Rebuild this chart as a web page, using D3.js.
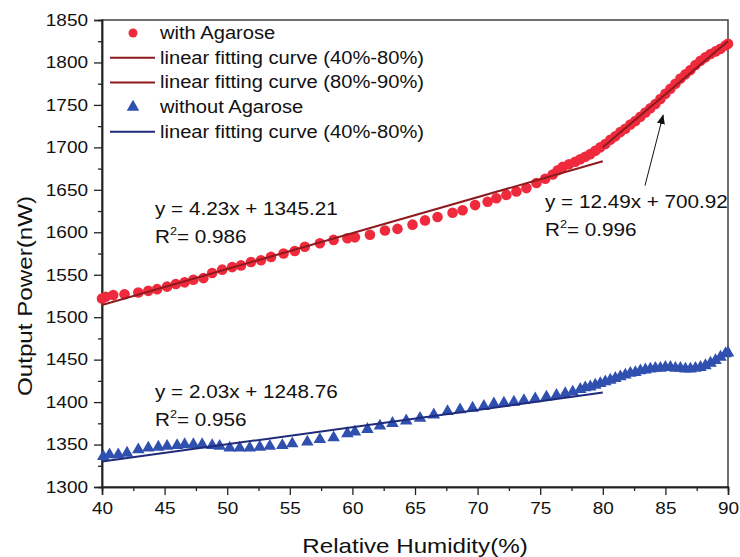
<!DOCTYPE html>
<html>
<head>
<meta charset="utf-8">
<script src="https://cdn.jsdelivr.net/npm/d3@7"></script>
<style>
body { margin: 0; background: #fff; }
text { font-family: "Liberation Sans", Arial, sans-serif; fill: #111; }
</style>
</head>
<body>
<div id="chart"></div>
<script>
// with Agarose (red circles)
const redX = [40.0, 40.3, 40.9, 41.8, 42.9, 43.7, 44.4, 45.2, 45.9, 46.6, 47.3, 48.1, 48.8, 49.6,
    50.4, 51.1, 51.9, 52.7, 53.5, 54.5, 55.4, 56.2, 57.4, 58.5, 59.6, 60.2, 61.4, 62.6, 63.6,
    64.8, 65.8, 66.8, 68.0, 68.8, 69.8, 70.8, 71.5, 72.3, 73.1, 73.9, 74.7, 75.4, 76.0, 76.4,
    76.8, 77.3, 77.8, 78.2, 78.6, 79.0, 79.4, 79.8, 80.2, 80.6, 81.0, 81.4, 81.8, 82.2, 82.6,
    83.0, 83.4, 83.8, 84.2, 84.6, 85.0, 85.4, 85.8, 86.2, 86.6, 87.0, 87.4, 87.8, 88.2, 88.6,
    89.0, 89.4, 89.8, 90.0];
const redY = [1522, 1524, 1526, 1527, 1529, 1531, 1533, 1536, 1539, 1541, 1544, 1546, 1552, 1556,
    1559, 1561, 1565, 1567, 1571, 1575, 1578, 1583, 1587, 1591, 1593, 1594, 1597, 1602, 1604,
    1609, 1614, 1618, 1623, 1626, 1632, 1636, 1640, 1644, 1648, 1652, 1658, 1663, 1668, 1673,
    1677, 1680, 1683, 1686, 1689, 1692, 1696, 1700, 1704, 1709, 1713, 1718, 1722, 1727, 1731,
    1736, 1741, 1746, 1751, 1757, 1763, 1769, 1775, 1781, 1786, 1791, 1797, 1802, 1806, 1810,
    1813, 1816, 1820, 1822];

// without Agarose (blue triangles)
const blueX = [40.1, 40.6, 41.3, 42.0, 42.9, 43.7, 44.5, 45.2, 46.0, 46.6, 47.3, 48.0, 48.8, 49.4,
    50.2, 51.0, 51.8, 52.6, 53.4, 54.4, 55.2, 56.4, 57.4, 58.5, 59.6, 60.2, 61.2, 62.2, 63.2,
    64.3, 65.4, 66.5, 67.6, 68.6, 69.6, 70.5, 71.3, 72.1, 72.9, 73.7, 74.6, 75.5, 76.3, 77.0,
    77.6, 78.2, 78.6, 79.0, 79.4, 79.8, 80.2, 80.6, 81.0, 81.4, 81.8, 82.2, 82.6, 83.0, 83.4,
    83.8, 84.2, 84.6, 85.0, 85.4, 85.8, 86.2, 86.6, 87.0, 87.4, 87.8, 88.2, 88.6, 89.0, 89.4,
    89.8, 90.0];
const blueY = [1336, 1338, 1338, 1340, 1344, 1346, 1347, 1348, 1349, 1350, 1350, 1350, 1349, 1348,
    1346, 1346, 1346, 1347, 1348, 1349, 1351, 1353, 1356, 1358, 1363, 1365, 1368, 1372, 1375,
    1378, 1381, 1385, 1389, 1391, 1393, 1395, 1398, 1399, 1400, 1402, 1404, 1406, 1408, 1410,
    1412, 1415, 1417, 1418, 1420, 1422, 1424, 1426, 1428, 1430, 1432, 1434, 1435, 1437, 1438,
    1439, 1440, 1440, 1441, 1441, 1440, 1440, 1439, 1439, 1440, 1441, 1443, 1446, 1449, 1453,
    1457, 1458];

// linear fits: [x0, y0, x1, y1]
const fitRed1 = [40, 1514.4, 80, 1683.6];
const fitRed2 = [80, 1700.1, 90, 1825.0];
const fitBlue = [40, 1329.96, 80, 1411.16];

const xTicks = [40, 45, 50, 55, 60, 65, 70, 75, 80, 85, 90];
const yTicks = [1300, 1350, 1400, 1450, 1500, 1550, 1600, 1650, 1700, 1750, 1800, 1850];

const legendItems = ["with Agarose", "linear fitting curve (40%-80%)", "linear fitting curve (80%-90%)",
    "without Agarose", "linear fitting curve (40%-80%)"];

const dim = { width: 740, height: 557 };
const margin = { top: 20, left: 102, right: 12, bottom: 70 };

const redPt = "#ee2a3c", redLine = "#8e1a1e", bluePt = "#3050b0", blueLine = "#1f2a7a";
const wide = 1.15; // the original lettering is a bit wider than Arial

const svg = d3.select("#chart").append("svg")
    .attr("width", dim.width)
    .attr("height", dim.height);

const x = d3.scaleLinear()
    .domain([40, 90])
    .range([margin.left, dim.width - margin.right]);

const y = d3.scaleLinear()
    .domain([1300, 1850])
    .range([dim.height - margin.bottom, margin.top]);

function stretch(sel) {
    sel.each(function () {
        const w = this.getComputedTextLength();
        d3.select(this).attr("textLength", w * wide).attr("lengthAdjust", "spacingAndGlyphs");
    });
}

// frame
svg.append("rect")
    .attr("x", x(40)).attr("y", y(1850))
    .attr("width", x(90) - x(40)).attr("height", y(1300) - y(1850))
    .attr("fill", "none").attr("stroke", "#222").attr("stroke-width", 1.3);

// axes
svg.append("g")
    .attr("transform", `translate(0,${y(1300)})`)
    .call(d3.axisBottom(x).tickValues(xTicks).tickSize(8).tickPadding(7).tickFormat(d3.format("d")));
svg.append("g")
    .attr("transform", `translate(0,${y(1300)})`)
    .call(d3.axisBottom(x).tickValues(d3.range(42.5, 90, 5)).tickSize(4).tickFormat(""));

svg.append("g")
    .attr("transform", `translate(${x(40)},0)`)
    .call(d3.axisLeft(y).tickValues(yTicks).tickSize(8).tickPadding(6).tickFormat(d3.format("d")));
svg.append("g")
    .attr("transform", `translate(${x(40)},0)`)
    .call(d3.axisLeft(y).tickValues(d3.range(1325, 1850, 50)).tickSize(4).tickFormat(""));

svg.selectAll(".domain").attr("stroke", "#222").attr("stroke-width", 1.5);
svg.selectAll(".tick line").attr("stroke", "#222").attr("stroke-width", 1.3);
svg.selectAll(".tick text").attr("font-size", 16.5).attr("fill", "#111")
    .attr("font-family", "Liberation Sans, Arial, sans-serif")
    .call(stretch);

// points
const redData = redX.map((v, i) => ({ x: v, y: redY[i] }));
const blueData = blueX.map((v, i) => ({ x: v, y: blueY[i] }));

svg.selectAll(".redPt")
    .data(redData)
    .enter().append("circle")
    .attr("class", "redPt")
    .attr("cx", d => x(d.x))
    .attr("cy", d => y(d.y))
    .attr("r", 5.3)
    .attr("fill", redPt);

const tri = d3.symbol().type(d3.symbolTriangle).size(68);
svg.selectAll(".bluePt")
    .data(blueData)
    .enter().append("path")
    .attr("class", "bluePt")
    .attr("transform", d => `translate(${x(d.x)},${y(d.y)})`)
    .attr("d", tri)
    .attr("fill", bluePt);

// fit lines
[[fitRed1, redLine], [fitRed2, redLine], [fitBlue, blueLine]].forEach(([f, c]) => {
    svg.append("line")
        .attr("x1", x(f[0])).attr("y1", y(f[1]))
        .attr("x2", x(f[2])).attr("y2", y(f[3]))
        .attr("stroke", c).attr("stroke-width", 2);
});

// equations
function equation(px, py, eq, r2) {
    const g = svg.append("g").attr("transform", `translate(${px},${py}) scale(${wide},1)`);
    g.append("text").attr("font-size", 18).text(eq);
    const t = g.append("text").attr("y", 28).attr("font-size", 18);
    t.append("tspan").text("R");
    t.append("tspan").attr("dy", -8).attr("font-size", 11).text("2");
    t.append("tspan").attr("dy", 8).text("= " + r2);
}
equation(155, 215, "y = 4.23x + 1345.21", "0.986");
equation(545, 208, "y = 12.49x + 700.92", "0.996");
equation(155, 398, "y = 2.03x + 1248.76", "0.956");

// arrow
svg.append("defs").append("marker")
    .attr("id", "arrow")
    .attr("viewBox", "0 0 10 10")
    .attr("refX", 9).attr("refY", 5)
    .attr("markerWidth", 10).attr("markerHeight", 12)
    .attr("markerUnits", "userSpaceOnUse")
    .attr("orient", "auto")
    .append("path").attr("d", "M0,1L10,5L0,9z").attr("fill", "#111");

svg.append("line")
    .attr("x1", x(83.37)).attr("y1", y(1655))
    .attr("x2", x(84.82)).attr("y2", y(1738))
    .attr("stroke", "#111").attr("stroke-width", 1)
    .attr("marker-end", "url(#arrow)");

// legend
const legend = svg.append("g");
legendItems.forEach((label, i) => {
    const cy = 33 + i * 24.7;
    if (i === 0) {
        legend.append("circle").attr("cx", 133).attr("cy", cy).attr("r", 4.5).attr("fill", redPt);
    } else if (i === 3) {
        legend.append("path").attr("transform", `translate(133,${cy})`)
            .attr("d", tri).attr("fill", bluePt);
    } else {
        legend.append("line").attr("x1", 110).attr("x2", 155).attr("y1", cy).attr("y2", cy)
            .attr("stroke", i < 3 ? redLine : blueLine).attr("stroke-width", 2);
    }
    legend.append("text").attr("x", 160).attr("y", cy + 6)
        .attr("font-size", 17.5).text(label)
        .call(stretch);
});

// axis titles
svg.append("text")
    .attr("x", 415).attr("y", 553)
    .attr("text-anchor", "middle").attr("font-size", 21)
    .text("Relative Humidity(%)")
    .call(stretch);

svg.append("text")
    .attr("transform", `translate(32,296) rotate(-90)`)
    .attr("text-anchor", "middle").attr("font-size", 21)
    .text("Output Power(nW)")
    .call(stretch);
</script>
</body>
</html>
